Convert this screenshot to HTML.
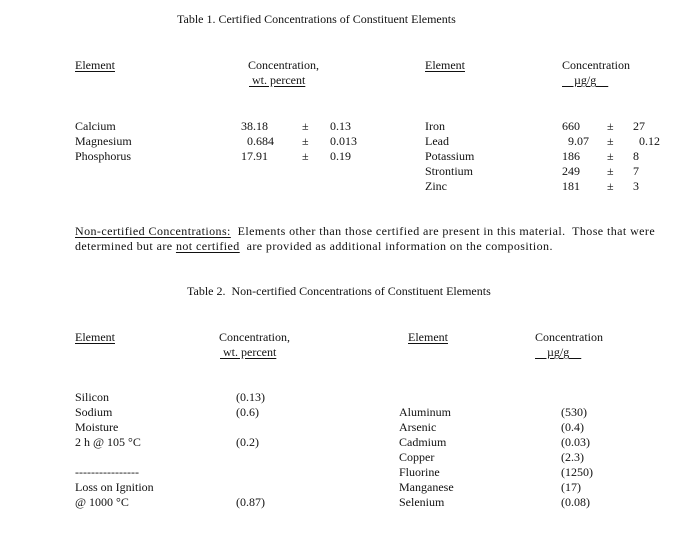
<!DOCTYPE html>
<html><head><meta charset="utf-8"><style>
html,body{margin:0;padding:0;background:#fff;}
body{width:697px;height:533px;position:relative;overflow:hidden;font-family:"Liberation Serif",serif;font-size:12px;color:#111;}
div{position:absolute;white-space:pre;line-height:15px;}
u{text-decoration:underline;text-underline-offset:2px;}
</style></head><body>
<div style="left:177px;top:12px">Table 1. Certified Concentrations of Constituent Elements</div>
<div style="left:75px;top:58px"><u>Element</u></div>
<div style="left:248px;top:58px">Concentration,</div>
<div style="left:249px;top:73px"><u> wt. percent</u></div>
<div style="left:425px;top:58px"><u>Element</u></div>
<div style="left:562px;top:58px">Concentration</div>
<div style="left:562px;top:73px"><u>    µg/g    </u></div>

<div style="left:75px;top:119px">Calcium<br>Magnesium<br>Phosphorus</div>
<div style="left:241px;top:119px">38.18<br>  0.684<br>17.91</div>
<div style="left:302px;top:119px">±<br>±<br>±</div>
<div style="left:330px;top:119px">0.13<br>0.013<br>0.19</div>
<div style="left:425px;top:119px">Iron<br>Lead<br>Potassium<br>Strontium<br>Zinc</div>
<div style="left:562px;top:119px">660<br>  9.07<br>186<br>249<br>181</div>
<div style="left:607px;top:119px">±<br>±<br>±<br>±<br>±</div>
<div style="left:633px;top:119px">27<br>  0.12<br>8<br>7<br>3</div>

<div style="left:75px;top:224px;letter-spacing:0.42px"><u>Non-certified Concentrations:</u>  Elements other than those certified are present in this material.  Those that were<br>determined but are <u>not certified</u>  are provided as additional information on the composition.</div>

<div style="left:187px;top:284px">Table 2.  Non-certified Concentrations of Constituent Elements</div>
<div style="left:75px;top:330px"><u>Element</u></div>
<div style="left:219px;top:330px">Concentration,</div>
<div style="left:220px;top:345px"><u> wt. percent</u></div>
<div style="left:408px;top:330px"><u>Element</u></div>
<div style="left:535px;top:330px">Concentration</div>
<div style="left:535px;top:345px"><u>    µg/g    </u></div>

<div style="left:75px;top:390px">Silicon<br>Sodium<br>Moisture<br>2 h @ 105 °C<br><br>----------------<br>Loss on Ignition<br>@ 1000 °C</div>
<div style="left:236px;top:390px">(0.13)<br>(0.6)<br><br>(0.2)<br><br><br><br>(0.87)</div>
<div style="left:399px;top:405px">Aluminum<br>Arsenic<br>Cadmium<br>Copper<br>Fluorine<br>Manganese<br>Selenium</div>
<div style="left:561px;top:405px">(530)<br>(0.4)<br>(0.03)<br>(2.3)<br>(1250)<br>(17)<br>(0.08)</div>
</body></html>
